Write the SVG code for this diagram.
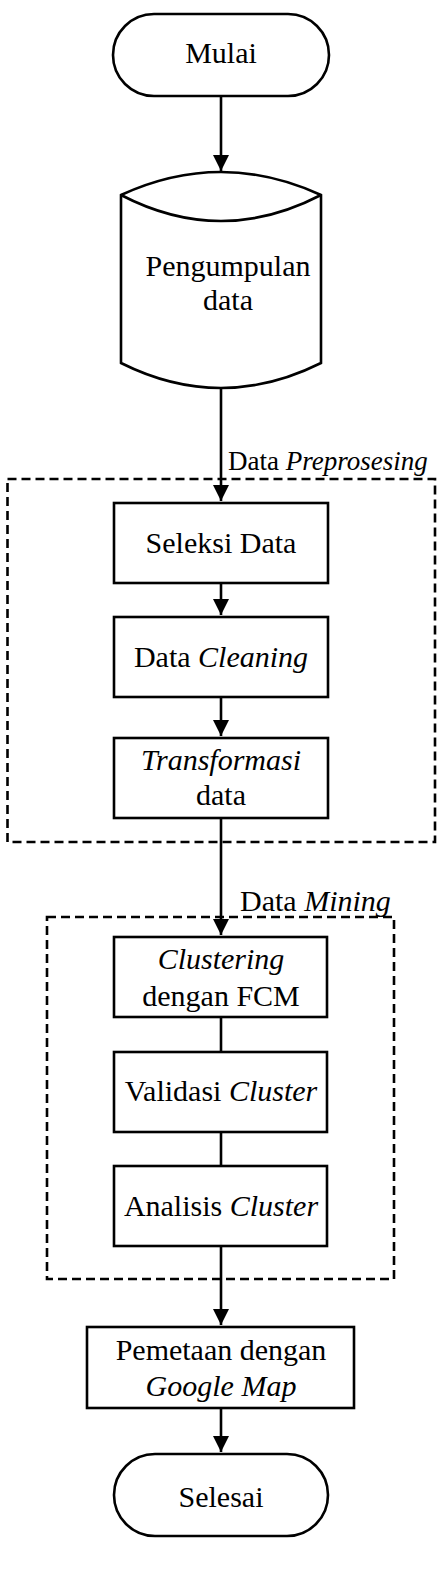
<svg xmlns="http://www.w3.org/2000/svg" width="440" height="1576" viewBox="0 0 440 1576">
<style>
.s{fill:#fff;stroke:#000;stroke-width:2.6}
.d{fill:none;stroke:#000;stroke-width:2.6;stroke-dasharray:9 5}
.c{fill:none;stroke:#000;stroke-width:2.6}
text{font-family:"Liberation Serif","Times New Roman",serif;font-size:30px;fill:#000;letter-spacing:0}
.m{text-anchor:middle}
.i{font-style:italic}
</style>
<defs>
<marker id="ah" markerUnits="userSpaceOnUse" markerWidth="16" markerHeight="20" refX="16" refY="8" orient="auto">
<path d="M0,0 L16,8 L0,16 Z" fill="#000"/>
</marker>
</defs>
<rect width="440" height="1576" fill="#fff"/>
<g id="groups">
<rect id="preprocessing" class="d" x="7.5" y="479" width="427.5" height="363"/>
<text x="228" y="470" style="font-size:27px">Data <tspan class="i">Preprosesing</tspan></text>
<rect id="mining" class="d" x="47" y="917" width="347" height="362"/>
<text x="240" y="911">Data <tspan class="i">Mining</tspan></text>
</g>
<g id="connectors">
<line class="c" x1="221" y1="96" x2="221" y2="171" marker-end="url(#ah)"/>
<line class="c" x1="221" y1="388" x2="221" y2="501" marker-end="url(#ah)"/>
<line class="c" x1="221" y1="583" x2="221" y2="615" marker-end="url(#ah)"/>
<line class="c" x1="221" y1="697" x2="221" y2="736" marker-end="url(#ah)"/>
<line class="c" x1="221" y1="818" x2="221" y2="935" marker-end="url(#ah)"/>
<line class="c" x1="221" y1="1017" x2="221" y2="1052"/>
<line class="c" x1="221" y1="1132" x2="221" y2="1166"/>
<line class="c" x1="221" y1="1246" x2="221" y2="1325" marker-end="url(#ah)"/>
<line class="c" x1="221" y1="1408" x2="221" y2="1452" marker-end="url(#ah)"/>
</g>
<g id="mulai">
<rect class="s" x="113" y="14" width="216" height="82" rx="41" ry="41"/>
<text class="m" x="221" y="63">Mulai</text>
</g>
<g id="pengumpulan">
<path class="s" d="M121,195 Q221,149 321,195 L321,363 Q221,413 121,363 Z"/>
<path class="c" d="M121,195 Q221,247 321,195"/>
<text class="m" x="228" y="276">Pengumpulan</text>
<text class="m" x="228" y="310">data</text>
</g>
<g id="seleksi">
<rect class="s" x="114" y="503" width="214" height="80"/>
<text class="m" x="221" y="553">Seleksi Data</text>
</g>
<g id="cleaning">
<rect class="s" x="114" y="617" width="214" height="80"/>
<text class="m" x="221" y="667">Data <tspan class="i">Cleaning</tspan></text>
</g>
<g id="transformasi">
<rect class="s" x="114" y="738" width="214" height="80"/>
<text class="m i" x="221" y="770">Transformasi</text>
<text class="m" x="221" y="805">data</text>
</g>
<g id="clustering">
<rect class="s" x="114" y="937" width="213" height="80"/>
<text class="m i" x="221" y="969">Clustering</text>
<text class="m" x="221" y="1006">dengan FCM</text>
</g>
<g id="validasi">
<rect class="s" x="114" y="1052" width="213" height="80"/>
<text class="m" x="221" y="1101">Validasi <tspan class="i">Cluster</tspan></text>
</g>
<g id="analisis">
<rect class="s" x="114" y="1166" width="213" height="80"/>
<text class="m" x="221" y="1216">Analisis <tspan class="i">Cluster</tspan></text>
</g>
<g id="pemetaan">
<rect class="s" x="87" y="1327" width="267" height="81"/>
<text class="m" x="221" y="1360">Pemetaan dengan</text>
<text class="m i" x="221" y="1396">Google Map</text>
</g>
<g id="selesai">
<rect class="s" x="114" y="1454" width="214" height="82" rx="41" ry="41"/>
<text class="m" x="221" y="1507">Selesai</text>
</g>
</svg>
